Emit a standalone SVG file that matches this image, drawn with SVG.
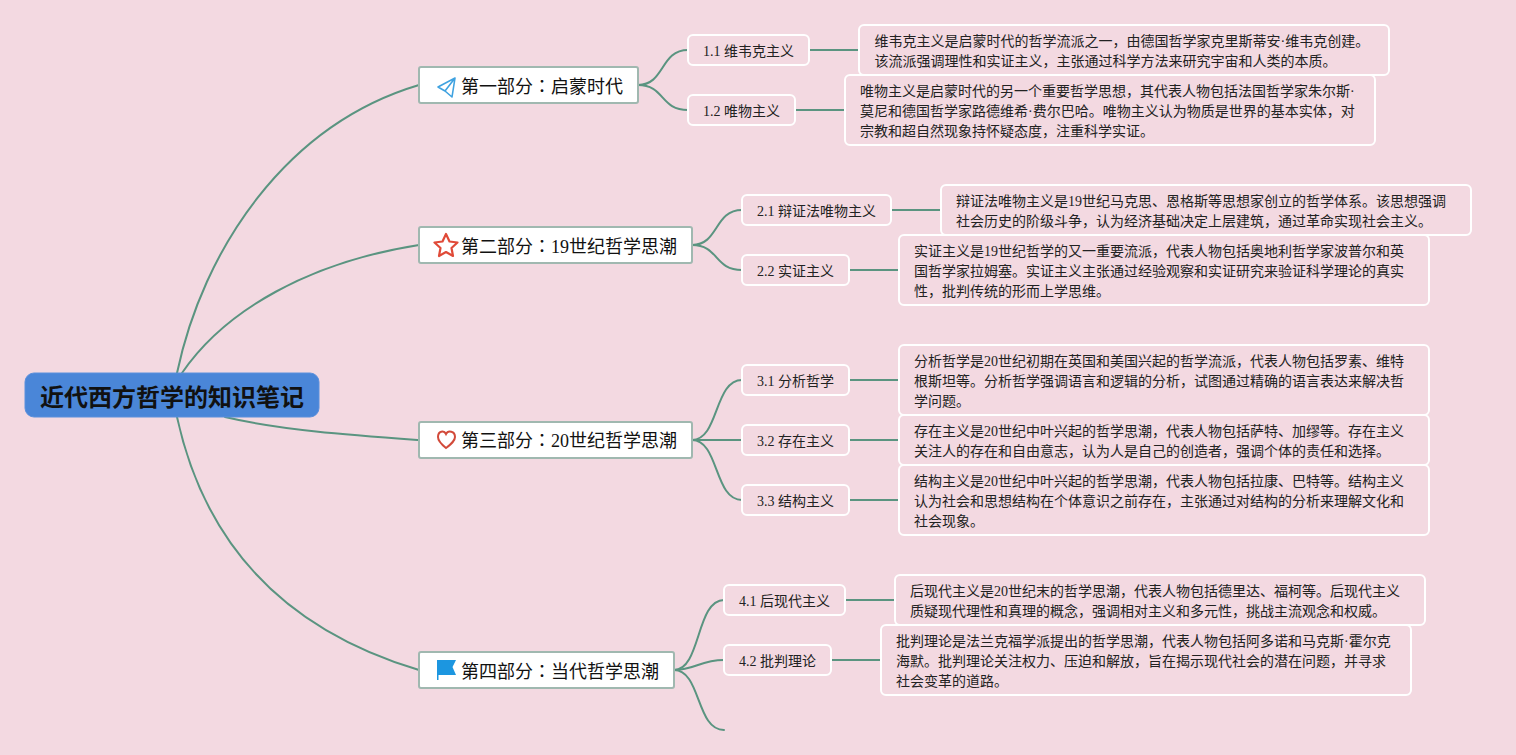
<svg xmlns="http://www.w3.org/2000/svg" width="1516" height="755" viewBox="0 0 1516 755">
<style>
text{font-family:"Liberation Serif","Noto Sans CJK SC",serif;fill:#222}
.colon{font-family:"Noto Sans CJK JP",sans-serif}
.c path{fill:none;stroke:#5a9480;stroke-width:2;stroke-linecap:round}
.root rect{fill:#4a86d8;stroke:#5b90dc;stroke-width:1}
.root text{font-size:24px;font-weight:700;fill:#111}
.part rect{fill:#fff;stroke:#a0b8b0;stroke-width:2}
.part text{font-size:18px;fill:#111}
.sub rect,.det rect{fill:none;stroke:#fff;stroke-width:2}
.sub text,.det text{font-size:14px}
</style>
<rect width="1516" height="755" fill="#f3d9e1"/>
<g class="c" id="connectors">
<path d="M177 373C203 250 285 125 419 85"/>
<path d="M182 373C225 310 310 262 419 245"/>
<path d="M225 417C280 430 350 435 419 440"/>
<path d="M177 417C205 545 285 630 419 670"/>
<path d="M638 85C665 85 660 50 688 50"/>
<path d="M638 85C665 85 660 110 688 110"/>
<path d="M692 245C719 245 714 210 742 210"/>
<path d="M692 245C719 245 714 270 742 270"/>
<path d="M692 440C719 440 714 380 742 380"/>
<path d="M692 440H742"/>
<path d="M692 440C719 440 714 500 742 500"/>
<path d="M674 670C701 670 696 600 724 600"/>
<path d="M674 670C695 670 700 660 724 660"/>
<path d="M674 670C701 670 696 730 724 730"/>
<path d="M809 50H859"/>
<path d="M795 110H845"/>
<path d="M891 210H941"/>
<path d="M849 270H899"/>
<path d="M849 380H899"/>
<path d="M849 440H899"/>
<path d="M849 500H899"/>
<path d="M845 600H895"/>
<path d="M831 660H881"/>
</g>
<g id="root" class="root"><rect x="25" y="373" width="294" height="44" rx="9"/><text x="40" y="406">近代西方哲学的知识笔记</text></g>
<g id="part1" class="part"><rect x="419" y="67" width="219" height="36" rx="2"/>
<path d="M455 78L438 87L445 91L452 97Z M445 91L455 78" fill="none" stroke="#3fa2e0" stroke-width="1.6" stroke-linejoin="round"/>
<text x="461" y="93">第一部分<tspan class="colon">：</tspan>启蒙时代</text></g>
<g id="part2" class="part"><rect x="419" y="227" width="273" height="36" rx="2"/>
<path d="M446 234L449.500 241.500L457.500 242.500L451.500 248L453 256L446 252L439 256L440.500 248L434.500 242.500L442.500 241.500Z" fill="none" stroke="#e04a38" stroke-width="2.200" stroke-linejoin="round"/>
<text x="461" y="253">第二部分<tspan class="colon">：</tspan>19世纪哲学思潮</text></g>
<g id="part3" class="part"><rect x="419" y="422" width="273" height="36" rx="2"/>
<path d="M446 448C441 444 438 441 438 437C438 431 444 430 446 434C448 430 455 431 455 437C455 441 451 444 446 448Z" fill="none" stroke="#d24a3a" stroke-width="2"/>
<text x="461" y="447">第三部分<tspan class="colon">：</tspan>20世纪哲学思潮</text></g>
<g id="part4" class="part"><rect x="419" y="652" width="255" height="36" rx="2"/>
<path d="M437 660H456L452.500 667L456 675H438.500V680H437Z" fill="#1c96e0" stroke="none"/>
<text x="461" y="678">第四部分<tspan class="colon">：</tspan>当代哲学思潮</text></g>
<g id="s11" class="sub"><rect x="688" y="35" width="121" height="30" rx="5"/><text x="703" y="56">1.1 维韦克主义</text></g>
<g id="s12" class="sub"><rect x="688" y="95" width="107" height="30" rx="5"/><text x="703" y="116">1.2 唯物主义</text></g>
<g id="s21" class="sub"><rect x="742" y="195" width="149" height="30" rx="5"/><text x="757" y="216">2.1 辩证法唯物主义</text></g>
<g id="s22" class="sub"><rect x="742" y="255" width="107" height="30" rx="5"/><text x="757" y="276">2.2 实证主义</text></g>
<g id="s31" class="sub"><rect x="742" y="365" width="107" height="30" rx="5"/><text x="757" y="386">3.1 分析哲学</text></g>
<g id="s32" class="sub"><rect x="742" y="425" width="107" height="30" rx="5"/><text x="757" y="446">3.2 存在主义</text></g>
<g id="s33" class="sub"><rect x="742" y="485" width="107" height="30" rx="5"/><text x="757" y="506">3.3 结构主义</text></g>
<g id="s41" class="sub"><rect x="724" y="585" width="121" height="30" rx="5"/><text x="739" y="606">4.1 后现代主义</text></g>
<g id="s42" class="sub"><rect x="724" y="645" width="107" height="30" rx="5"/><text x="739" y="666">4.2 批判理论</text></g>
<g id="d11" class="det"><rect x="859" y="25" width="530" height="50" rx="5"/><text x="874.500" y="46">维韦克主义是启蒙时代的哲学流派之一，由德国哲学家克里斯蒂安·维韦克创建。</text><text x="874.500" y="66">该流派强调理性和实证主义，主张通过科学方法来研究宇宙和人类的本质。</text></g>
<g id="d12" class="det"><rect x="845" y="75" width="530" height="70" rx="5"/><text x="860" y="96">唯物主义是启蒙时代的另一个重要哲学思想，其代表人物包括法国哲学家朱尔斯·</text><text x="860" y="116">莫尼和德国哲学家路德维希·费尔巴哈。唯物主义认为物质是世界的基本实体，对</text><text x="860" y="136">宗教和超自然现象持怀疑态度，注重科学实证。</text></g>
<g id="d21" class="det"><rect x="941" y="185" width="530" height="50" rx="5"/><text x="956" y="206">辩证法唯物主义是19世纪马克思、恩格斯等思想家创立的哲学体系。该思想强调</text><text x="956" y="226">社会历史的阶级斗争，认为经济基础决定上层建筑，通过革命实现社会主义。</text></g>
<g id="d22" class="det"><rect x="899" y="235" width="530" height="70" rx="5"/><text x="914" y="256">实证主义是19世纪哲学的又一重要流派，代表人物包括奥地利哲学家波普尔和英</text><text x="914" y="276">国哲学家拉姆塞。实证主义主张通过经验观察和实证研究来验证科学理论的真实</text><text x="914" y="296">性，批判传统的形而上学思维。</text></g>
<g id="d31" class="det"><rect x="899" y="345" width="530" height="70" rx="5"/><text x="914" y="366">分析哲学是20世纪初期在英国和美国兴起的哲学流派，代表人物包括罗素、维特</text><text x="914" y="386">根斯坦等。分析哲学强调语言和逻辑的分析，试图通过精确的语言表达来解决哲</text><text x="914" y="406">学问题。</text></g>
<g id="d32" class="det"><rect x="899" y="415" width="530" height="50" rx="5"/><text x="914" y="436">存在主义是20世纪中叶兴起的哲学思潮，代表人物包括萨特、加缪等。存在主义</text><text x="914" y="456">关注人的存在和自由意志，认为人是自己的创造者，强调个体的责任和选择。</text></g>
<g id="d33" class="det"><rect x="899" y="465" width="530" height="70" rx="5"/><text x="914" y="486">结构主义是20世纪中叶兴起的哲学思潮，代表人物包括拉康、巴特等。结构主义</text><text x="914" y="506">认为社会和思想结构在个体意识之前存在，主张通过对结构的分析来理解文化和</text><text x="914" y="526">社会现象。</text></g>
<g id="d41" class="det"><rect x="895" y="575" width="530" height="50" rx="5"/><text x="910" y="596">后现代主义是20世纪末的哲学思潮，代表人物包括德里达、福柯等。后现代主义</text><text x="910" y="616">质疑现代理性和真理的概念，强调相对主义和多元性，挑战主流观念和权威。</text></g>
<g id="d42" class="det"><rect x="881" y="625" width="530" height="70" rx="5"/><text x="896" y="646">批判理论是法兰克福学派提出的哲学思潮，代表人物包括阿多诺和马克斯·霍尔克</text><text x="896" y="666">海默。批判理论关注权力、压迫和解放，旨在揭示现代社会的潜在问题，并寻求</text><text x="896" y="686">社会变革的道路。</text></g>
</svg>
